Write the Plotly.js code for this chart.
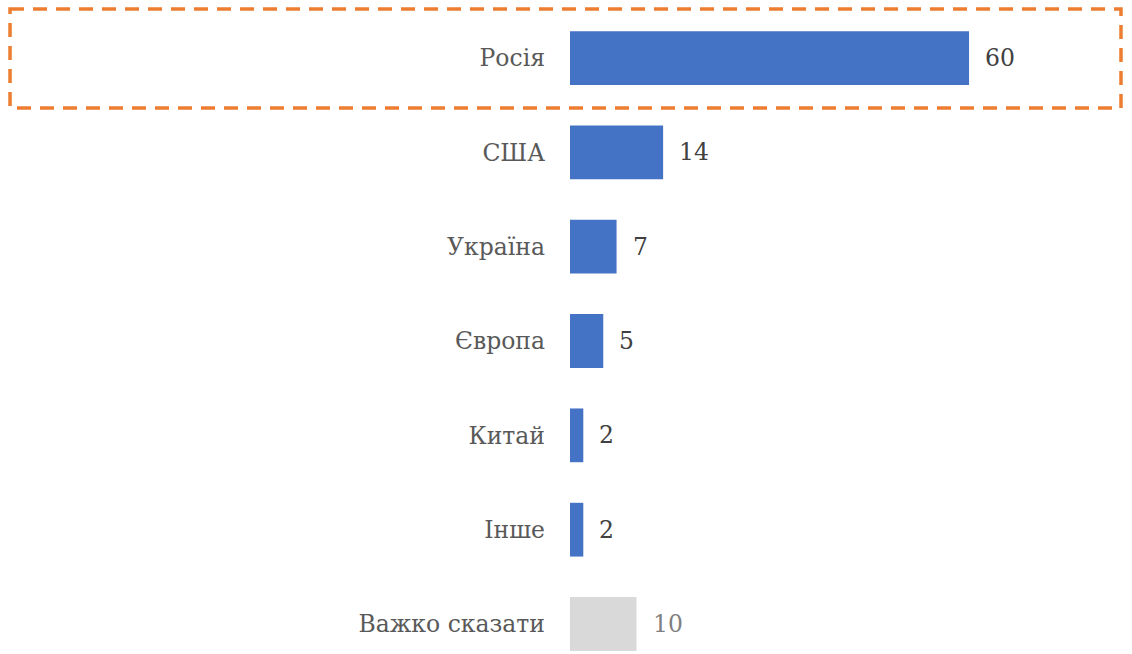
<!DOCTYPE html>
<html>
<head>
<meta charset="utf-8">
<script src="https://cdn.plot.ly/plotly-3.0.1.min.js"></script>
<style>
  html, body { margin: 0; padding: 0; background: #fff; }
  #chart { width: 1132px; height: 654px; }
</style>
</head>
<body>
<div id="chart"></div>
<script>
const categories = ["Росія", "США", "Україна", "Європа", "Китай", "Інше", "Важко сказати"];
const values = [60, 14, 7, 5, 2, 2, 10];
const barColors = ["#4472C4", "#4472C4", "#4472C4", "#4472C4", "#4472C4", "#4472C4", "#D9D9D9"];
const labelColors = ["#404040", "#404040", "#404040", "#404040", "#404040", "#404040", "#808080"];

// Liberation Serif does not come through here, DejaVu Serif does
const fontFamily = "DejaVu Serif";
const fontSize = 23.5;

const trace = {
  type: "bar",
  orientation: "h",
  x: values,
  y: categories,
  marker: { color: barColors },
  hoverinfo: "none"
};

// value labels to the right of each bar
const annotations = categories.map((cat, i) => ({
  x: values[i],
  y: cat,
  xref: "x",
  yref: "y",
  text: String(values[i]),
  showarrow: false,
  xanchor: "left",
  xshift: 14,
  font: { family: fontFamily, size: fontSize, color: labelColors[i] }
}));

const layout = {
  width: 1132,
  height: 654,
  margin: { l: 570, r: 0, t: 0, b: 0 },
  paper_bgcolor: "#fff",
  plot_bgcolor: "#fff",
  showlegend: false,
  bargap: 0.43,
  font: { family: fontFamily },
  xaxis: {
    range: [0, 84.5],
    visible: false,
    fixedrange: true
  },
  yaxis: {
    type: "category",
    categoryorder: "array",
    categoryarray: categories,
    range: [6.318, -0.615],
    showgrid: false,
    zeroline: false,
    showline: false,
    ticks: "",
    ticklabelstandoff: 24,
    tickfont: { family: fontFamily, size: fontSize, color: "#595959" },
    fixedrange: true
  },
  annotations,
  shapes: [{
    type: "rect",
    xref: "paper",
    yref: "y",
    x0: -0.9964,
    x1: 0.9804,
    y0: -0.52,
    y1: 0.53,
    line: { color: "#ED7D31", width: 3.5, dash: "14px,9px" },
    fillcolor: "rgba(0,0,0,0)"
  }]
};

Plotly.newPlot("chart", [trace], layout, { displayModeBar: false, staticPlot: true });
</script>
</body>
</html>
